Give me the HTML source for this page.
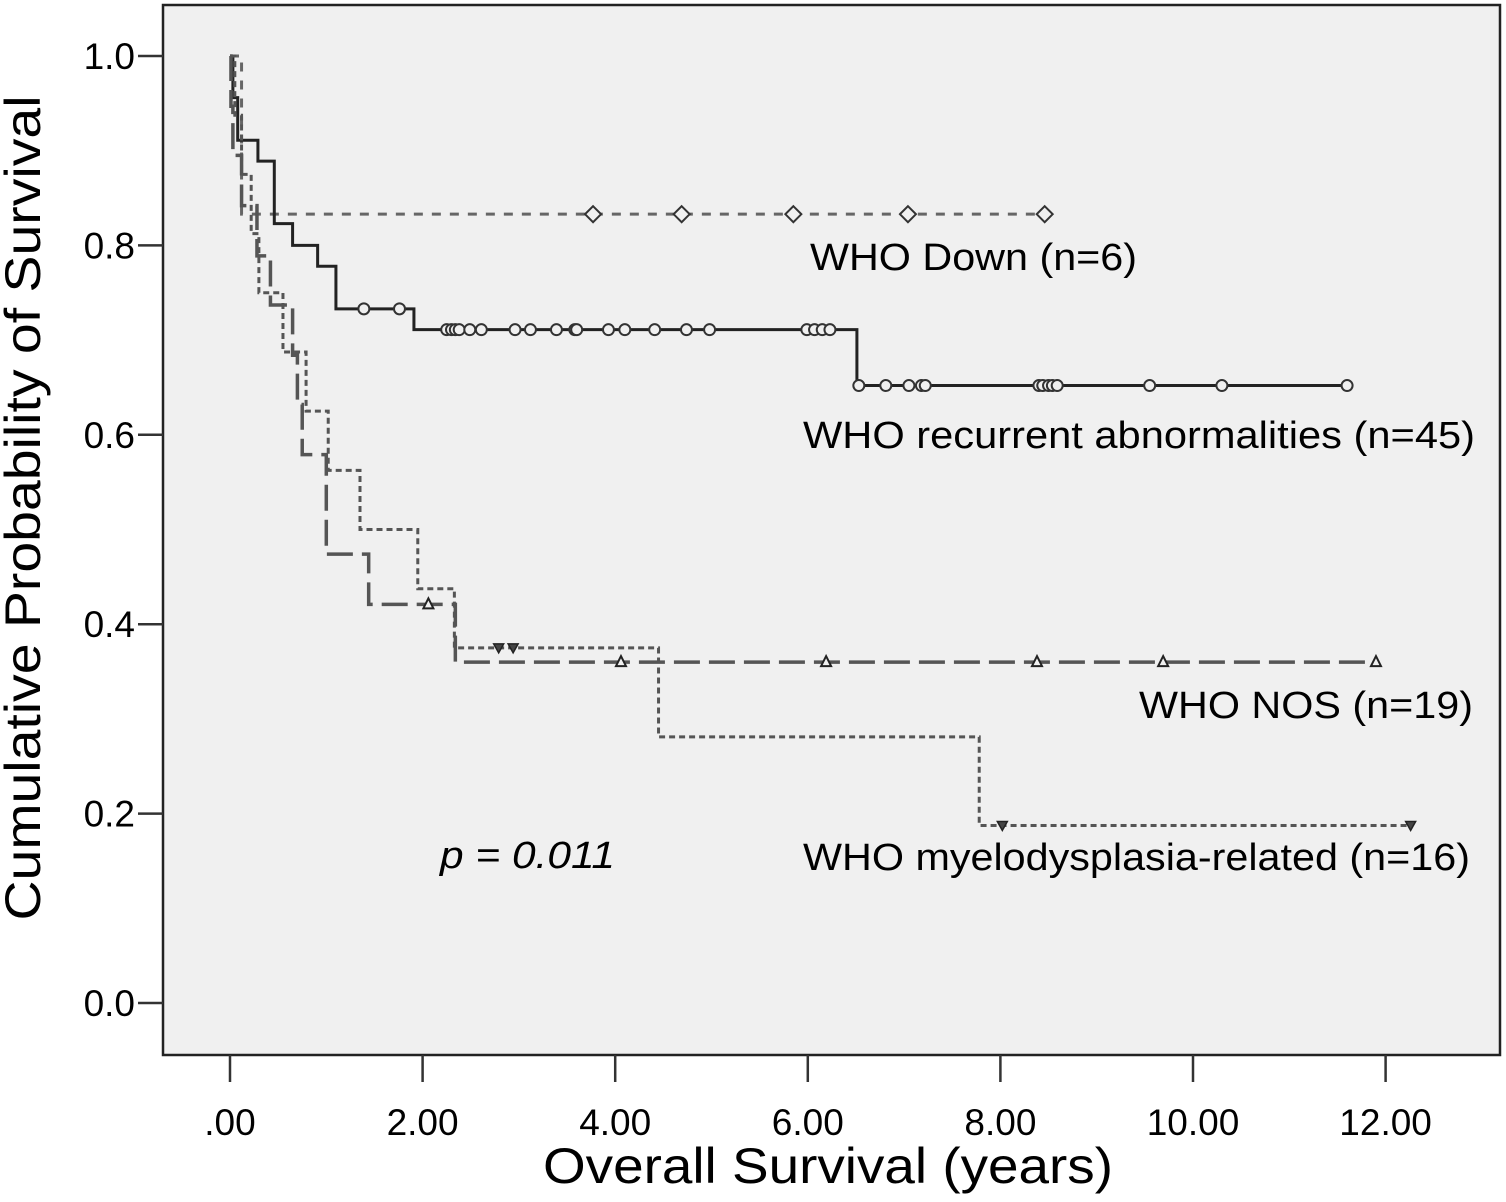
<!DOCTYPE html>
<html><head><meta charset="utf-8"><style>
body{margin:0;background:#fff;}
svg{display:block;font-family:"Liberation Sans",Arial,sans-serif;}
</style></head><body>
<svg id="chart" width="1506" height="1202">
<rect x="163" y="5" width="1337" height="1050" fill="#f0f0f0" stroke="#222" stroke-width="2.5"/>
<g id="axes"></g>
<g id="series"></g>
<text x="40" y="508" font-size="50" text-anchor="middle" textLength="825" lengthAdjust="spacingAndGlyphs" transform="rotate(-90 40 508)">Cumulative Probability of Survival</text>
<text x="543" y="1183" font-size="50" textLength="570" lengthAdjust="spacingAndGlyphs">Overall Survival (years)</text>
<text x="810" y="270" font-size="38" textLength="327" lengthAdjust="spacingAndGlyphs">WHO Down (n=6)</text>
<text x="803" y="448" font-size="38" textLength="672" lengthAdjust="spacingAndGlyphs">WHO recurrent abnormalities (n=45)</text>
<text x="1139" y="718" font-size="38" textLength="334" lengthAdjust="spacingAndGlyphs">WHO NOS (n=19)</text>
<text x="803" y="870" font-size="38" textLength="667" lengthAdjust="spacingAndGlyphs">WHO myelodysplasia-related (n=16)</text>
<text x="440" y="868" font-size="38" font-style="italic" textLength="175" lengthAdjust="spacingAndGlyphs">p = 0.011</text>
</svg>
<script>
const xTicks=[0,2,4,6,8,10,12];
const xTickLabels=[".00","2.00","4.00","6.00","8.00","10.00","12.00"];
const yTicks=[0,0.2,0.4,0.6,0.8,1.0];
const yTickLabels=["0.0","0.2","0.4","0.6","0.8","1.0"];
// step curves: times & survival values
const downT=[0,0.12,8.46];
const downS=[1.0,0.833,0.833];
const downCens=[3.77,4.69,5.85,7.04,8.46];
const recT=[0,0.03,0.08,0.29,0.46,0.65,0.91,1.10,1.91,6.51,11.6];
const recS=[1.0,0.956,0.911,0.889,0.823,0.800,0.778,0.733,0.711,0.652,0.652];
const recCens=[1.39,1.76,2.25,2.30,2.34,2.38,2.49,2.61,2.96,3.12,3.39,3.58,3.60,3.93,4.10,4.41,4.74,4.98,5.99,6.07,6.15,6.23,6.53,6.81,7.05,7.18,7.22,8.40,8.44,8.50,8.54,8.59,9.55,10.30,11.6];
const recCensS=[0.733,0.733,0.711,0.711,0.711,0.711,0.711,0.711,0.711,0.711,0.711,0.711,0.711,0.711,0.711,0.711,0.711,0.711,0.711,0.711,0.711,0.711,0.652,0.652,0.652,0.652,0.652,0.652,0.652,0.652,0.652,0.652,0.652,0.652,0.652];
const nosT=[0,0.01,0.03,0.12,0.28,0.42,0.65,0.70,0.75,1.0,1.44,2.34,11.9];
const nosS=[1.0,0.947,0.895,0.842,0.789,0.737,0.684,0.632,0.579,0.474,0.421,0.36,0.36];
const nosCens=[2.06,4.06,6.19,8.38,9.69,11.9];
const nosCensS=[0.421,0.36,0.36,0.36,0.36,0.36];
const mdsT=[0,0.05,0.12,0.22,0.30,0.55,0.79,1.02,1.35,1.95,2.33,4.45,7.78,12.26];
const mdsS=[1.0,0.9375,0.875,0.8125,0.75,0.6875,0.625,0.5625,0.5,0.4375,0.375,0.281,0.1875,0.1875];
const mdsCens=[2.79,2.94,8.02,12.26];
const mdsCensS=[0.375,0.375,0.1875,0.1875];

const X=t=>230+t*96.3, Y=v=>1003-v*947;
const NS="http://www.w3.org/2000/svg";
function mk(tag,attrs,parent){const e=document.createElementNS(NS,tag);for(const k in attrs)e.setAttribute(k,attrs[k]);parent.appendChild(e);return e;}
const axes=document.getElementById('axes'), ser=document.getElementById('series');
xTicks.forEach((t,i)=>{
 const l=mk('line',{x1:X(t),x2:X(t),y1:1055,y2:1082,stroke:'#333','stroke-width':2.5},axes);
 
 
 const tx=mk('text',{x:X(t),y:1135,'font-size':37,'text-anchor':'middle'},axes);
 tx.textContent=xTickLabels[i];
 
 
});
yTicks.forEach((v,i)=>{
 const l=mk('line',{x1:138,x2:163,y1:Y(v),y2:Y(v),stroke:'#333','stroke-width':2.5},axes);
 
 
 const tx=mk('text',{x:135,y:Y(v)+13,'font-size':37,'text-anchor':'end'},axes);
 tx.textContent=yTickLabels[i];
 
 
});
function stepPath(T,S){let d=`M${X(T[0])},${Y(S[0])}`;for(let i=1;i<T.length;i++){d+=` H${X(T[i])} V${Y(S[i])}`;}return d;}
function curve(T,S,name,style){
 const p=mk('path',Object.assign({d:stepPath(T,S),fill:'none'},style),ser);
 
 
}
curve(downT,downS,'who-down-curve',{stroke:'#666','stroke-width':3,'stroke-dasharray':'9 9'});
curve(recT,recS,'who-recurrent-curve',{stroke:'#222','stroke-width':3});
curve(nosT,nosS,'who-nos-curve',{stroke:'#555','stroke-width':3.5,'stroke-dasharray':'26 9'});
curve(mdsT,mdsS,'who-mds-curve',{stroke:'#555','stroke-width':3,'stroke-dasharray':'6 4'});
downCens.forEach(t=>{const x=X(t),y=Y(0.833);
 const m=mk('polygon',{points:`${x},${y-8} ${x+8},${y} ${x},${y+8} ${x-8},${y}`,fill:'#f0f0f0',stroke:'#333','stroke-width':2},ser);
 
 });
recCens.forEach((t,i)=>{
 const m=mk('circle',{cx:X(t),cy:Y(recCensS[i]),r:5.5,fill:'#f0f0f0',stroke:'#333','stroke-width':2},ser);
 
 });
nosCens.forEach((t,i)=>{const x=X(t),y=Y(nosCensS[i]);
 const m=mk('polygon',{points:`${x},${y-6} ${x+5},${y+4} ${x-5},${y+4}`,fill:'#f0f0f0',stroke:'#222','stroke-width':2},ser);
 
 });
mdsCens.forEach((t,i)=>{const x=X(t),y=Y(mdsCensS[i]);
 const m=mk('polygon',{points:`${x-5},${y-4} ${x+5},${y-4} ${x},${y+5}`,fill:'#444',stroke:'#222','stroke-width':1.5},ser);
 
 });
</script>
</body></html>
